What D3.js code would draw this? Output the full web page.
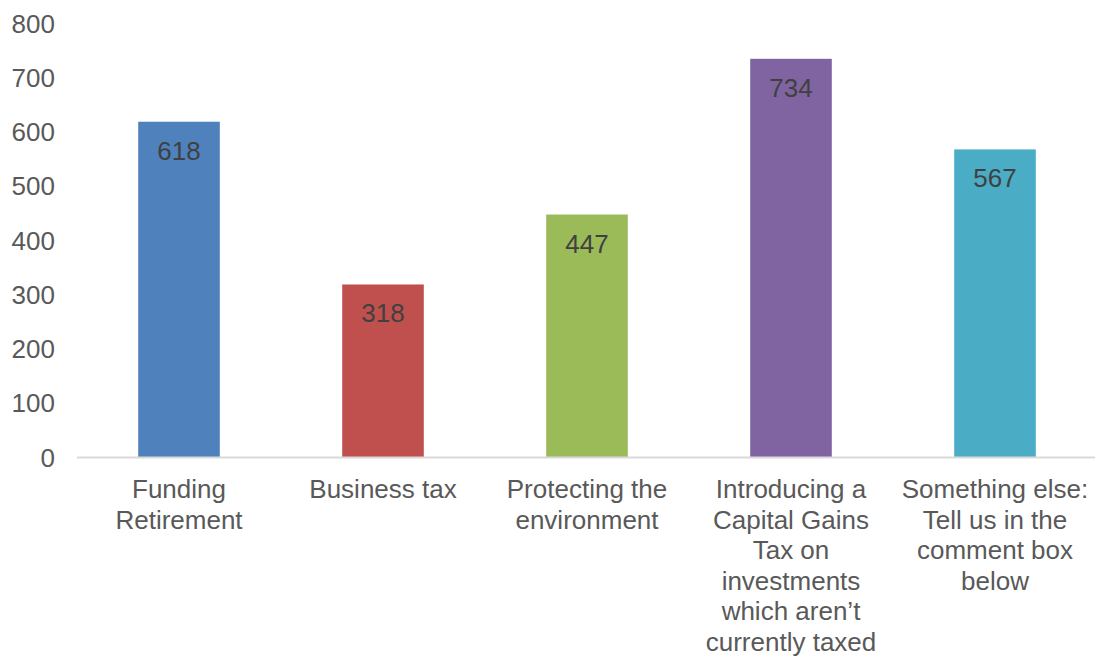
<!DOCTYPE html>
<html>
<head>
<meta charset="utf-8">
<script src="https://cdn.jsdelivr.net/npm/d3@7"></script>
<style>
  html, body { margin: 0; padding: 0; background: #ffffff; }
  svg { display: block; font-family: "Liberation Sans", Arial, sans-serif; }
</style>
</head>
<body>
<svg id="chart" width="1095" height="657"></svg>
<script>
// Category labels, one entry per line of the wrapped label
const categories = [
  ["Funding", "Retirement"],
  ["Business tax"],
  ["Protecting the", "environment"],
  ["Introducing a", "Capital Gains", "Tax on", "investments", "which aren\u2019t", "currently taxed"],
  ["Something else:", "Tell us in the", "comment box", "below"]
];
const values = [618, 318, 447, 734, 567];
const colors = ["#4F81BD", "#C0504D", "#9BBB59", "#8064A2", "#4BACC6"];
const yTicks = [0, 100, 200, 300, 400, 500, 600, 700, 800];

const svg = d3.select("#chart");
const keys = categories.map((c, i) => i);

const x = d3.scaleBand()
  .domain(keys)
  .range([77, 1097])
  .paddingInner(0.6)
  .paddingOuter(0.3);

const y = d3.scaleLinear()
  .domain([0, 800])
  .range([457, 23]);

// Value axis: labels only, no line or gridlines
const yAxis = svg.append("g")
  .attr("transform", "translate(55,0)")
  .call(d3.axisLeft(y).tickValues(yTicks).tickSize(0).tickPadding(0));
yAxis.select(".domain").remove();
yAxis.selectAll("text")
  .attr("fill", "#595959")
  .style("font-size", "26px")
  .attr("dy", "0.35em");

// Bars
svg.append("g").selectAll("rect")
  .data(values)
  .join("rect")
  .attr("x", (d, i) => x(i))
  .attr("width", x.bandwidth())
  .attr("y", d => y(d))
  .attr("height", d => y(0) - y(d))
  .attr("fill", (d, i) => colors[i]);

// Category axis baseline
svg.append("line")
  .attr("x1", 77).attr("x2", 1097)
  .attr("y1", y(0) + 0.5).attr("y2", y(0) + 0.5)
  .attr("stroke", "#d9d9d9")
  .attr("stroke-width", 2);

// Data labels inside the top of each bar
svg.append("g").selectAll("text")
  .data(values)
  .join("text")
  .attr("x", (d, i) => x(i) + x.bandwidth() / 2)
  .attr("y", d => y(d) + 38)
  .attr("text-anchor", "middle")
  .attr("fill", "#404040")
  .style("font-size", "26px")
  .text(d => d);

// Wrapped category labels
const catG = svg.append("g").selectAll("text")
  .data(categories)
  .join("text")
  .attr("text-anchor", "middle")
  .attr("fill", "#595959")
  .style("font-size", "26px");
catG.each(function(lines, i) {
  d3.select(this).selectAll("tspan")
    .data(lines)
    .join("tspan")
    .attr("x", x(i) + x.bandwidth() / 2)
    .attr("y", (l, j) => y(0) + 41 + j * 30.5)
    .text(l => l);
});
</script>
</body>
</html>
